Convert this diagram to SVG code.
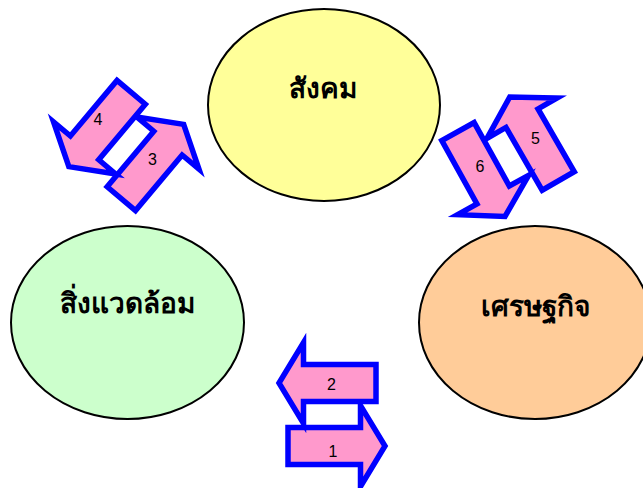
<svg xmlns="http://www.w3.org/2000/svg" width="643" height="488" viewBox="0 0 643 488">
  <style>
    .bg { fill: #ffffff; }
    .node ellipse { stroke: #000000; stroke-width: 2; }
    .node text { font-family: "Noto Sans", "DejaVu Sans", "Liberation Sans", sans-serif; font-size: 28px; font-weight: bold; fill: #000000; text-anchor: middle; }
    .arrow { fill: #ff99cc; stroke: #0000ff; stroke-width: 5.5; stroke-linejoin: miter; stroke-miterlimit: 10; }
    .lbl { font-family: "Liberation Sans", Arial, sans-serif; font-size: 16px; fill: #000000; text-anchor: middle; }
  </style>
  <defs>
    <path id="blockArrow" d="M-48.5,-18.5 H24 V-40.5 L48.5,0 L24,40.5 V18.5 H-48.5 Z"/>
  </defs>
  <rect class="bg" x="0" y="0" width="643" height="488"/>

  <g id="node-society" class="node">
    <ellipse cx="324" cy="105" rx="116" ry="96" fill="#ffff99"/>
    <text x="323" y="98">สังคม</text>
  </g>
  <g id="node-environment" class="node">
    <ellipse cx="127.5" cy="322.5" rx="116.5" ry="96.5" fill="#ccffcc"/>
    <text x="127" y="313">สิ่งแวดล้อม</text>
  </g>
  <g id="node-economy" class="node">
    <ellipse cx="535" cy="322.5" rx="116" ry="96.5" fill="#ffcc99"/>
    <text x="535" y="316">เศรษฐกิจ</text>
  </g>

  <g id="connectors">
    <g id="arrow-1">
      <use href="#blockArrow" class="arrow" transform="translate(336.5,446)"/>
      <text class="lbl" x="333" y="457">1</text>
    </g>
    <g id="arrow-2">
      <use href="#blockArrow" class="arrow" transform="translate(327.5,383) rotate(180)"/>
      <text class="lbl" x="331.5" y="390">2</text>
    </g>
    <g id="arrow-3">
      <use href="#blockArrow" class="arrow" transform="translate(152.5,161.5) rotate(-50)"/>
      <text class="lbl" x="152.5" y="165">3</text>
    </g>
    <g id="arrow-4">
      <use href="#blockArrow" class="arrow" transform="translate(100,129.5) rotate(130)"/>
      <text class="lbl" x="98" y="125">4</text>
    </g>
    <g id="arrow-5">
      <use href="#blockArrow" class="arrow" transform="translate(534,139) rotate(-120)"/>
      <text class="lbl" x="535.5" y="144">5</text>
    </g>
    <g id="arrow-6">
      <use href="#blockArrow" class="arrow" transform="translate(481.5,174) rotate(61)"/>
      <text class="lbl" x="480" y="172">6</text>
    </g>
  </g>
</svg>
